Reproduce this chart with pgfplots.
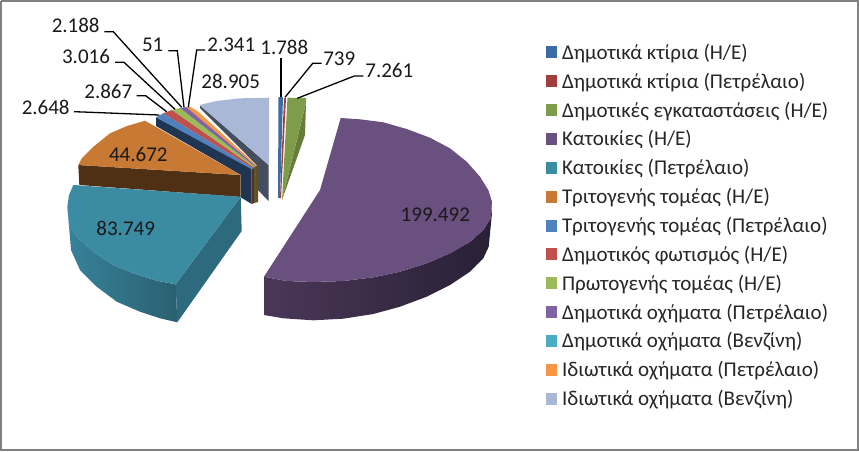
\documentclass[border=0pt]{standalone}
\usepackage{fontspec}
\setmainfont{Carlito}
\usepackage{pgfplots}
\pgfplotsset{compat=1.18}
\definecolor{cA}{HTML}{3C6CA4}
\definecolor{cB}{HTML}{A13F3D}
\definecolor{cC}{HTML}{7F9C4A}
\definecolor{cD}{HTML}{69507F}
\definecolor{cE}{HTML}{3B8CA3}
\definecolor{cF}{HTML}{C87933}
\definecolor{cG}{HTML}{4F81BD}
\definecolor{cH}{HTML}{C0504D}
\definecolor{cI}{HTML}{9BBB59}
\definecolor{cJ}{HTML}{8064A2}
\definecolor{cK}{HTML}{4BACC6}
\definecolor{cL}{HTML}{F79646}
\definecolor{cM}{HTML}{A8B8D6}
\definecolor{HTMLgrey}{HTML}{454E5E}
\definecolor{navywall}{HTML}{1F3552}
\definecolor{stripA}{HTML}{5E2A2A}
\definecolor{stripB}{HTML}{4E6128}
\definecolor{stripC}{HTML}{6B4A20}
\definecolor{brownwall}{HTML}{503015}
\definecolor{tealL}{HTML}{37829A}
\definecolor{tealR}{HTML}{2A6070}
\definecolor{tealside}{HTML}{2E6A7E}
\definecolor{purpL}{HTML}{4A3758}
\definecolor{purpR}{HTML}{292035}
\definecolor{greenwall}{HTML}{667C3A}
\newcommand{\lab}[3]{\node[font=\fontsize{21}{21}\selectfont,text=black!90,inner sep=0pt] at (axis cs:#1,#2) {#3};}
\begin{document}
\begin{tikzpicture}
\begin{axis}[
  width=859pt,height=451pt,scale only axis,
  xmin=0,xmax=859,ymin=0,ymax=451,y dir=reverse,
  hide axis,clip=false,
  no markers,
  legend cell align=left,
  legend style={at={(axis cs:546,42.5)},anchor=north west,draw=none,fill=none,inner sep=0pt,outer sep=0pt,
    font=\fontsize{21}{21}\selectfont,text=black!85,
    /tikz/every even column/.append style={column sep=0pt},
    row sep=9pt,nodes={inner ysep=1.5pt,inner xsep=5pt}},
  legend image code/.code={\fill[#1] (-5pt,-6pt) rectangle (6pt,6pt);},
]
% frame
\addplot[forget plot,draw=black!50,line width=2pt] coordinates {(1,1)(858,1)(858,450)(1,450)(1,1)};
% walls
\addplot[forget plot,fill=HTMLgrey,draw=none] coordinates {(200,105)(268.5,165)(268.5,201)(258,190)(256.7,165)(200,108)};
\addplot[forget plot,fill=navywall,draw=none] coordinates {(156,117.3)(251.7,168)(251.7,204)(241,197.5)(241,175)(156,126)};
\addplot[forget plot,fill=stripA,draw=none] coordinates {(251.7,168)(254,167)(254,203)(251.7,204)};
\addplot[forget plot,fill=stripB,draw=none] coordinates {(254,167)(256,166)(256,202.5)(254,203)};
\addplot[forget plot,fill=stripC,draw=none] coordinates {(256,166)(258,165.5)(258,202)(256,202.5)};
\addplot[forget plot,fill=brownwall,draw=none] coordinates {(78.3,165)(240.7,175)(240.7,197)(79.3,185)};
\addplot[forget plot,left color=tealL,right color=tealR,draw=none] coordinates {(67.7,210)(69,225)(78.3,238.3)(93.3,251.7)(113.3,265)(133.3,273.3)(156.7,280.7)(175.7,284.3)(177.3,322.3)(160,318.3)(140,311.7)(116.7,301.7)(96.7,286.7)(80,270)(71,250)};
\addplot[forget plot,fill=tealside,draw=none] coordinates {(240.7,196.7)(241.7,231)(177.3,322.3)(175.7,284.3)};
\addplot[forget plot,left color=purpL,right color=purpR,draw=none] coordinates {(264,276.7)(286.7,281)(313.3,282)(343.3,281)(373.3,277.3)(400,271.7)(426.7,263.3)(450,253.3)(470,241.7)(483.3,230)(490.7,218.3)(492,205)(492,213)(488.7,246.7)(483.3,258.3)(470,271.7)(450,285)(426.7,296.7)(400,306.7)(373.3,314)(343.3,318.7)(313.3,320.3)(283.3,318.3)(264,315)};
\addplot[forget plot,fill=greenwall,draw=none] coordinates {(306,103)(305,135)(282,200)};
% top faces, one per category
\addplot[fill=cA,draw=none] coordinates {(278.5,97)(283,97)(280,198)(278,198)};
\addlegendentry{Δημοτικά κτίρια (Η/Ε)}
\addplot[fill=cB,draw=none] coordinates {(284,98)(286,98)(281,198)(280,198)};
\addlegendentry{Δημοτικά κτίρια (Πετρέλαιο)}
\addplot[fill=cC,draw=none] coordinates {(287.5,97.7)(306,98)(306,103)(282,200)};
\addlegendentry{Δημοτικές εγκαταστάσεις (Η/Ε)}
\addplot[fill=cD,draw=none] coordinates {(340.7,118)(360,119.3)(383.3,122.3)(406.7,129)(430,137.7)(450,148.3)(466.7,161.7)(480,176.7)(488.3,190)(492,201.7)(490.7,218.3)(483.3,230)(470,241.7)(450,253.3)(426.7,263.3)(400,271.7)(373.3,277.3)(343.3,281)(313.3,282)(286.7,281)(264,276.7)(320,190)};
\addlegendentry{Κατοικίες (Η/Ε)}
\addplot[fill=cE,draw=none] coordinates {(73.3,185)(69,195)(67.3,206.7)(69,225)(78.3,238.3)(93.3,251.7)(113.3,265)(133.3,273.3)(156.7,280.7)(175.7,284.3)(240.7,196.7)};
\addlegendentry{Κατοικίες (Πετρέλαιο)}
\addplot[fill=cF,draw=none] coordinates {(78.3,165)(82,158)(93,147)(110,133.3)(127,126)(145,120.7)(240.7,175)};
\addlegendentry{Τριτογενής τομέας (Η/Ε)}
\addplot[fill=cG,draw=none] coordinates {(156,117.3)(163.3,113.3)(253.5,168.5)(251.7,169.3)};
\addlegendentry{Τριτογενής τομέας (Πετρέλαιο)}
\addplot[fill=cH,draw=none] coordinates {(163.3,113.3)(172,110)(254,167.3)(253.3,168.3)};
\addlegendentry{Δημοτικός φωτισμός (Η/Ε)}
\addplot[fill=cI,draw=none] coordinates {(172,110)(180,108)(255,166.5)(254,167.3)};
\addlegendentry{Πρωτογενής τομέας (Η/Ε)}
\addplot[fill=cJ,draw=none] coordinates {(180,108)(186.7,107)(256,166)(255,166.5)};
\addlegendentry{Δημοτικά οχήματα (Πετρέλαιο)}
\addplot[fill=cK,draw=none] coordinates {(186.7,107)(187,107)(256.2,166)(256,166)};
\addlegendentry{Δημοτικά οχήματα (Βενζίνη)}
\addplot[fill=cL,draw=none] coordinates {(186.7,107.3)(190,106.7)(198.3,111.7)(257,165.7)(256,166)};
\addlegendentry{Ιδιωτικά οχήματα (Πετρέλαιο)}
\addplot[fill=cM,draw=none] coordinates {(199.3,105)(216.7,101)(240,98.3)(269,97.7)(269,165)};
\addlegendentry{Ιδιωτικά οχήματα (Βενζίνη)}
% leader lines
\addplot[forget plot,black,line width=1.3pt] coordinates {(104.3,31.7)(113.3,31.7)(181.7,107.3)};
\addplot[forget plot,black,line width=1.3pt] coordinates {(115,62.3)(124,62.3)(175,109.3)};
\addplot[forget plot,black,line width=1.3pt] coordinates {(136.7,95.7)(145.7,95.7)(166.7,111.7)};
\addplot[forget plot,black,line width=1.3pt] coordinates {(74,111.7)(83,112)(159.3,115)};
\addplot[forget plot,black,line width=1.3pt] coordinates {(168.3,50.7)(177.3,50.7)(184,107.3)};
\addplot[forget plot,black,line width=1.3pt] coordinates {(205,50)(196.7,50)(188.3,107.3)};
\addplot[forget plot,black,line width=1.3pt] coordinates {(281,58.3)(281,97.3)};
\addplot[forget plot,black,line width=1.3pt] coordinates {(321.7,63.3)(312.7,63.3)(285,97.3)};
\addplot[forget plot,black,line width=1.3pt] coordinates {(363.3,76)(354.3,76)(297.3,98.3)};
% data labels
\lab{230.7}{81.7}{28.905}
\lab{138.3}{154}{44.672}
\lab{125.7}{228.7}{83.749}
\lab{435.3}{214.3}{199.492}
\lab{284.3}{47.7}{1.788}
\lab{339.3}{59}{739}
\lab{389.3}{70.7}{7.261}
\lab{231.3}{44.7}{2.341}
\lab{152.7}{45.3}{51}
\lab{75.7}{25.7}{2.188}
\lab{86}{56.7}{3.016}
\lab{108.3}{91.7}{2.867}
\lab{45.7}{107.3}{2.648}
\end{axis}
\end{tikzpicture}
\end{document}
